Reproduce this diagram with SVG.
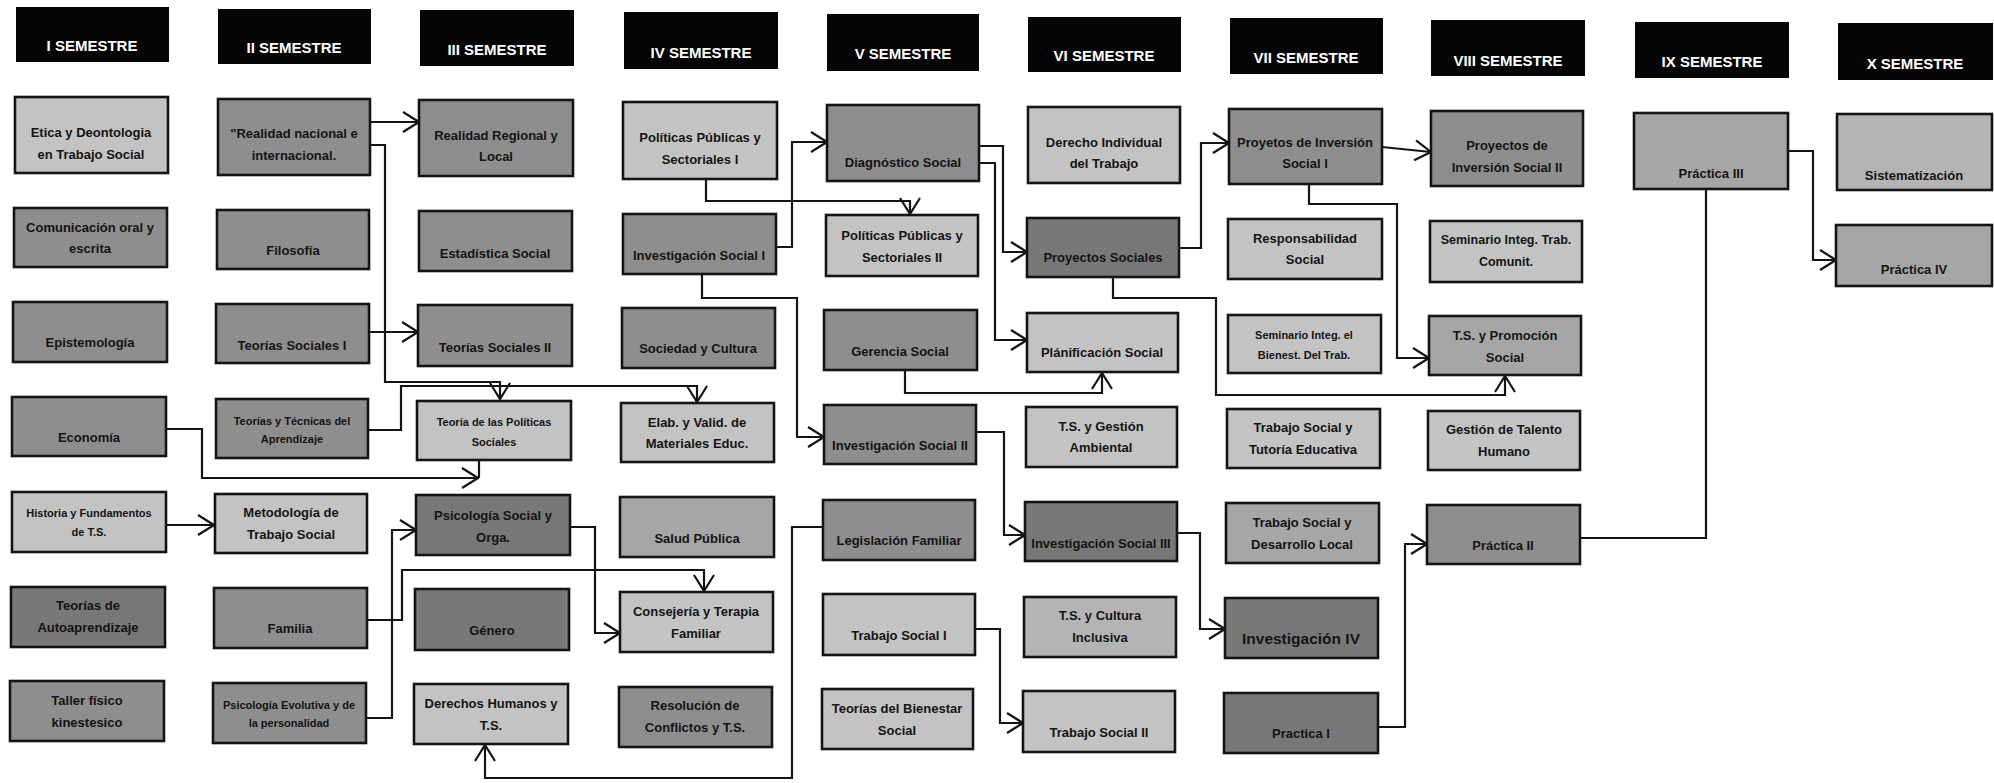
<svg xmlns="http://www.w3.org/2000/svg" width="1994" height="783" viewBox="0 0 1994 783">
<style>
.bg{fill:#ffffff}
.hb{fill:#050505}
.ht{fill:#ffffff;font-family:"Liberation Sans",Arial,sans-serif;font-weight:bold;font-size:15px;text-anchor:middle;dominant-baseline:central}
.node rect{stroke:#141414;stroke-width:2.6}
.L{fill:#c3c3c3}
.LM{fill:#b4b4b4}
.M{fill:#a6a6a6}
.D{fill:#8e8e8e}
.X{fill:#787878}
.t{fill:#141414;font-family:"Liberation Sans",Arial,sans-serif;font-weight:bold;font-size:13px;text-anchor:middle;dominant-baseline:central}
.s{font-size:11px}
.c path{fill:none;stroke:#141414;stroke-width:2.2;stroke-linejoin:miter}
.a{marker-end:url(#arr)}
</style>
<defs>
<marker id="arr" markerUnits="userSpaceOnUse" viewBox="0 0 18 22" markerWidth="18" markerHeight="22" refX="17" refY="11" orient="auto">
<path d="M1,1 L17,11 L1,21" fill="none" stroke="#141414" stroke-width="2.2"/>
</marker>
</defs>
<rect class="bg" x="0" y="0" width="1994" height="783"/>

<g id="headers">
<g id="h1"><rect class="hb" x="16" y="7" width="153" height="55"/><text class="ht" x="92" y="45">I SEMESTRE</text></g>
<g id="h2"><rect class="hb" x="218" y="9" width="153" height="55"/><text class="ht" x="294" y="47">II SEMESTRE</text></g>
<g id="h3"><rect class="hb" x="420" y="10" width="154" height="56"/><text class="ht" x="497" y="49">III SEMESTRE</text></g>
<g id="h4"><rect class="hb" x="624" y="12" width="154" height="57"/><text class="ht" x="701" y="52">IV SEMESTRE</text></g>
<g id="h5"><rect class="hb" x="827" y="14" width="152" height="57"/><text class="ht" x="903" y="53">V SEMESTRE</text></g>
<g id="h6"><rect class="hb" x="1028" y="17" width="153" height="55"/><text class="ht" x="1104" y="55">VI SEMESTRE</text></g>
<g id="h7"><rect class="hb" x="1230" y="18" width="153" height="56"/><text class="ht" x="1306" y="57">VII SEMESTRE</text></g>
<g id="h8"><rect class="hb" x="1431" y="20" width="154" height="56"/><text class="ht" x="1508" y="60">VIII SEMESTRE</text></g>
<g id="h9"><rect class="hb" x="1635" y="22" width="154" height="56"/><text class="ht" x="1712" y="61">IX SEMESTRE</text></g>
<g id="h10"><rect class="hb" x="1838" y="23" width="155" height="57"/><text class="ht" x="1915" y="63">X SEMESTRE</text></g>
</g>

<g id="connectors" class="c">
<path class="a" d="M370,122 H419"/>
<path class="a" d="M370,145 H385 V382 H500 V399"/>
<path class="a" d="M368,430 H401 V386 H697 V402"/>
<path class="a" d="M369,332 H418"/>
<path class="a" d="M166,429 H202 V478 H478"/>
<path d="M479,461 V478"/>
<path class="a" d="M166,525 H214"/>
<path class="a" d="M367,620 H402 V570 H704 V591"/>
<path class="a" d="M366,718 H392 V530 H416"/>
<path class="a" d="M570,527 H595 V633 H620"/>
<path class="a" d="M706,179 V201 H910 V214"/>
<path class="a" d="M776,247 H792 V142 H827"/>
<path class="a" d="M702,274 V298 H797 V437 H824"/>
<path class="a" d="M979,146 H1003 V252 H1027"/>
<path class="a" d="M979,163 H995 V340 H1027"/>
<path class="a" d="M905,370 V393 H1102 V373"/>
<path class="a" d="M976,432 H1004 V535 H1025"/>
<path class="a" d="M823,527 H792 V778 H485 V745"/>
<path class="a" d="M975,629 H1000 V723 H1023"/>
<path class="a" d="M1179,248 H1201 V143 H1229"/>
<path class="a" d="M1113,277 V298 H1216 V395 H1505 V376"/>
<path class="a" d="M1382,147 L1431,152"/>
<path class="a" d="M1309,184 V204 H1397 V358 H1429"/>
<path class="a" d="M1177,533 H1200 V629 H1225"/>
<path class="a" d="M1378,727 H1405 V544 H1427"/>
<path d="M1580,538 H1706 V189"/>
<path class="a" d="M1788,151 H1813 V260 H1836"/>
</g>

<g id="n-etica" class="node"><rect class="L" x="15" y="97" width="153" height="76"/><text class="t"><tspan x="91" y="132">Etica y Deontologia</tspan><tspan x="91" y="154">en Trabajo Social</tspan></text></g>
<g id="n-comunicacion" class="node"><rect class="D" x="14" y="208" width="153" height="59"/><text class="t"><tspan x="90" y="227">Comunicación oral y</tspan><tspan x="90" y="248">escrita</tspan></text></g>
<g id="n-epistemologia" class="node"><rect class="D" x="13" y="302" width="154" height="60"/><text class="t" x="90" y="342">Epistemología</text></g>
<g id="n-economia" class="node"><rect class="D" x="12" y="397" width="154" height="59"/><text class="t" x="89" y="437">Economía</text></g>
<g id="n-historia" class="node"><rect class="L" x="12" y="492" width="154" height="60"/><text class="t s"><tspan x="89" y="513">Historia y Fundamentos</tspan><tspan x="89" y="532">de T.S.</tspan></text></g>
<g id="n-autoaprendizaje" class="node"><rect class="X" x="11" y="587" width="154" height="60"/><text class="t"><tspan x="88" y="605">Teorías de</tspan><tspan x="88" y="627">Autoaprendizaje</tspan></text></g>
<g id="n-taller" class="node"><rect class="D" x="10" y="681" width="154" height="60"/><text class="t"><tspan x="87" y="700">Taller físico</tspan><tspan x="87" y="722">kinestesico</tspan></text></g>

<g id="n-realidad-nacional" class="node"><rect class="D" x="218" y="99" width="152" height="76"/><text class="t"><tspan x="294" y="133">"Realidad nacional e</tspan><tspan x="294" y="155">internacional.</tspan></text></g>
<g id="n-filosofia" class="node"><rect class="D" x="217" y="210" width="152" height="59"/><text class="t" x="293" y="250">Filosofía</text></g>
<g id="n-teorias-sociales-1" class="node"><rect class="D" x="216" y="304" width="153" height="59"/><text class="t" x="292" y="345">Teorías Sociales I</text></g>
<g id="n-teorias-tecnicas" class="node"><rect class="D" x="216" y="399" width="152" height="59"/><text class="t s"><tspan x="292" y="421">Teorías y Técnicas del</tspan><tspan x="292" y="439">Aprendizaje</tspan></text></g>
<g id="n-metodologia" class="node"><rect class="L" x="215" y="494" width="152" height="59"/><text class="t"><tspan x="291" y="512">Metodología de</tspan><tspan x="291" y="534">Trabajo Social</tspan></text></g>
<g id="n-familia" class="node"><rect class="D" x="214" y="588" width="153" height="60"/><text class="t" x="290" y="628">Familia</text></g>
<g id="n-psicologia-evolutiva" class="node"><rect class="D" x="213" y="683" width="153" height="60"/><text class="t s"><tspan x="289" y="705">Psicología Evolutiva y de</tspan><tspan x="289" y="723">la personalidad</tspan></text></g>

<g id="n-realidad-regional" class="node"><rect class="D" x="419" y="100" width="154" height="76"/><text class="t"><tspan x="496" y="135">Realidad Regional y</tspan><tspan x="496" y="156">Local</tspan></text></g>
<g id="n-estadistica" class="node"><rect class="D" x="419" y="211" width="153" height="60"/><text class="t" x="495" y="253">Estadística Social</text></g>
<g id="n-teorias-sociales-2" class="node"><rect class="D" x="418" y="305" width="154" height="61"/><text class="t" x="495" y="347">Teorías Sociales II</text></g>
<g id="n-teoria-politicas" class="node"><rect class="L" x="417" y="401" width="154" height="59"/><text class="t s"><tspan x="494" y="422">Teoría de las Políticas</tspan><tspan x="494" y="442">Sociales</tspan></text></g>
<g id="n-psicologia-social" class="node"><rect class="X" x="416" y="495" width="154" height="60"/><text class="t"><tspan x="493" y="515">Psicología Social y</tspan><tspan x="493" y="537">Orga.</tspan></text></g>
<g id="n-genero" class="node"><rect class="X" x="415" y="589" width="154" height="61"/><text class="t" x="492" y="630">Género</text></g>
<g id="n-derechos-humanos" class="node"><rect class="L" x="414" y="684" width="154" height="60"/><text class="t"><tspan x="491" y="703">Derechos Humanos y</tspan><tspan x="491" y="725">T.S.</tspan></text></g>

<g id="n-politicas-1" class="node"><rect class="L" x="623" y="102" width="154" height="77"/><text class="t"><tspan x="700" y="137">Políticas Públicas y</tspan><tspan x="700" y="159">Sectoriales I</tspan></text></g>
<g id="n-investigacion-1" class="node"><rect class="D" x="623" y="214" width="153" height="60"/><text class="t" x="699" y="255">Investigación Social I</text></g>
<g id="n-sociedad" class="node"><rect class="D" x="622" y="308" width="153" height="60"/><text class="t" x="698" y="348">Sociedad y Cultura</text></g>
<g id="n-elab" class="node"><rect class="L" x="621" y="403" width="153" height="59"/><text class="t"><tspan x="697" y="422">Elab. y Valid. de</tspan><tspan x="697" y="443">Materiales Educ.</tspan></text></g>
<g id="n-salud" class="node"><rect class="M" x="620" y="497" width="154" height="60"/><text class="t" x="697" y="538">Salud Pública</text></g>
<g id="n-consejeria" class="node"><rect class="L" x="620" y="592" width="153" height="60"/><text class="t"><tspan x="696" y="611">Consejería y Terapia</tspan><tspan x="696" y="633">Familiar</tspan></text></g>
<g id="n-resolucion" class="node"><rect class="D" x="619" y="687" width="153" height="60"/><text class="t"><tspan x="695" y="705">Resolución de</tspan><tspan x="695" y="727">Conflictos y T.S.</tspan></text></g>

<g id="n-diagnostico" class="node"><rect class="D" x="827" y="105" width="152" height="76"/><text class="t" x="903" y="162">Diagnóstico Social</text></g>
<g id="n-politicas-2" class="node"><rect class="L" x="826" y="215" width="152" height="61"/><text class="t"><tspan x="902" y="235">Políticas Públicas y</tspan><tspan x="902" y="257">Sectoriales II</tspan></text></g>
<g id="n-gerencia" class="node"><rect class="D" x="824" y="310" width="153" height="60"/><text class="t" x="900" y="351">Gerencia Social</text></g>
<g id="n-investigacion-2" class="node"><rect class="D" x="824" y="405" width="152" height="59"/><text class="t" x="900" y="445">Investigación Social II</text></g>
<g id="n-legislacion" class="node"><rect class="D" x="823" y="500" width="152" height="60"/><text class="t" x="899" y="540">Legislación Familiar</text></g>
<g id="n-trabajo-social-1" class="node"><rect class="L" x="823" y="594" width="152" height="61"/><text class="t" x="899" y="635">Trabajo Social I</text></g>
<g id="n-teorias-bienestar" class="node"><rect class="L" x="822" y="689" width="151" height="60"/><text class="t"><tspan x="897" y="708">Teorías del Bienestar</tspan><tspan x="897" y="730">Social</tspan></text></g>

<g id="n-derecho-individual" class="node"><rect class="L" x="1028" y="107" width="152" height="76"/><text class="t"><tspan x="1104" y="142">Derecho Individual</tspan><tspan x="1104" y="163">del Trabajo</tspan></text></g>
<g id="n-proyectos-sociales" class="node"><rect class="X" x="1027" y="218" width="152" height="59"/><text class="t" x="1103" y="257">Proyectos Sociales</text></g>
<g id="n-planificacion" class="node"><rect class="L" x="1027" y="313" width="151" height="59"/><text class="t" x="1102" y="352">Plánificación Social</text></g>
<g id="n-gestion-ambiental" class="node"><rect class="L" x="1026" y="407" width="151" height="60"/><text class="t"><tspan x="1101" y="426">T.S. y Gestión</tspan><tspan x="1101" y="447">Ambiental</tspan></text></g>
<g id="n-investigacion-3" class="node"><rect class="X" x="1025" y="502" width="152" height="59"/><text class="t" x="1101" y="543">Investigación Social III</text></g>
<g id="n-cultura-inclusiva" class="node"><rect class="LM" x="1024" y="597" width="152" height="60"/><text class="t"><tspan x="1100" y="615">T.S. y Cultura</tspan><tspan x="1100" y="637">Inclusiva</tspan></text></g>
<g id="n-trabajo-social-2" class="node"><rect class="L" x="1023" y="691" width="152" height="61"/><text class="t" x="1099" y="732">Trabajo Social II</text></g>

<g id="n-proyetos-inversion-1" class="node"><rect class="D" x="1229" y="109" width="153" height="75"/><text class="t"><tspan x="1305" y="142">Proyetos de Inversión</tspan><tspan x="1305" y="163">Social I</tspan></text></g>
<g id="n-responsabilidad" class="node"><rect class="L" x="1228" y="219" width="154" height="60"/><text class="t"><tspan x="1305" y="238">Responsabilidad</tspan><tspan x="1305" y="259">Social</tspan></text></g>
<g id="n-seminario-bienestar" class="node"><rect class="L" x="1228" y="315" width="153" height="58"/><text class="t s"><tspan x="1304" y="335">Seminario Integ. el</tspan><tspan x="1304" y="355">Bienest. Del Trab.</tspan></text></g>
<g id="n-tutoria" class="node"><rect class="L" x="1227" y="409" width="153" height="59"/><text class="t"><tspan x="1303" y="427">Trabajo Social y</tspan><tspan x="1303" y="449">Tutoría Educativa</tspan></text></g>
<g id="n-desarrollo-local" class="node"><rect class="M" x="1226" y="503" width="153" height="60"/><text class="t"><tspan x="1302" y="522">Trabajo Social y</tspan><tspan x="1302" y="544">Desarrollo Local</tspan></text></g>
<g id="n-investigacion-4" class="node"><rect class="X" x="1225" y="598" width="153" height="60"/><text class="t" x="1301" y="638" style="font-size:15.5px">Investigación IV</text></g>
<g id="n-practica-1" class="node"><rect class="X" x="1224" y="693" width="154" height="60"/><text class="t" x="1301" y="733">Practica I</text></g>

<g id="n-proyectos-inversion-2" class="node"><rect class="D" x="1431" y="111" width="152" height="75"/><text class="t"><tspan x="1507" y="145">Proyectos de</tspan><tspan x="1507" y="167">Inversión Social II</tspan></text></g>
<g id="n-seminario-comunit" class="node"><rect class="L" x="1430" y="221" width="152" height="61"/><text class="t" style="font-size:12.5px"><tspan x="1506" y="240">Seminario Integ. Trab.</tspan><tspan x="1506" y="262">Comunit.</tspan></text></g>
<g id="n-promocion" class="node"><rect class="M" x="1429" y="316" width="152" height="59"/><text class="t"><tspan x="1505" y="335">T.S. y Promoción</tspan><tspan x="1505" y="357">Social</tspan></text></g>
<g id="n-talento" class="node"><rect class="L" x="1428" y="411" width="152" height="59"/><text class="t"><tspan x="1504" y="429">Gestión de Talento</tspan><tspan x="1504" y="451">Humano</tspan></text></g>
<g id="n-practica-2" class="node"><rect class="D" x="1427" y="505" width="153" height="59"/><text class="t" x="1503" y="545">Práctica II</text></g>

<g id="n-practica-3" class="node"><rect class="M" x="1634" y="113" width="154" height="76"/><text class="t" x="1711" y="173">Práctica III</text></g>
<g id="n-sistematizacion" class="node"><rect class="LM" x="1837" y="114" width="155" height="76"/><text class="t" x="1914" y="175">Sistematización</text></g>
<g id="n-practica-4" class="node"><rect class="M" x="1836" y="225" width="156" height="61"/><text class="t" x="1914" y="269">Práctica IV</text></g>
</svg>
